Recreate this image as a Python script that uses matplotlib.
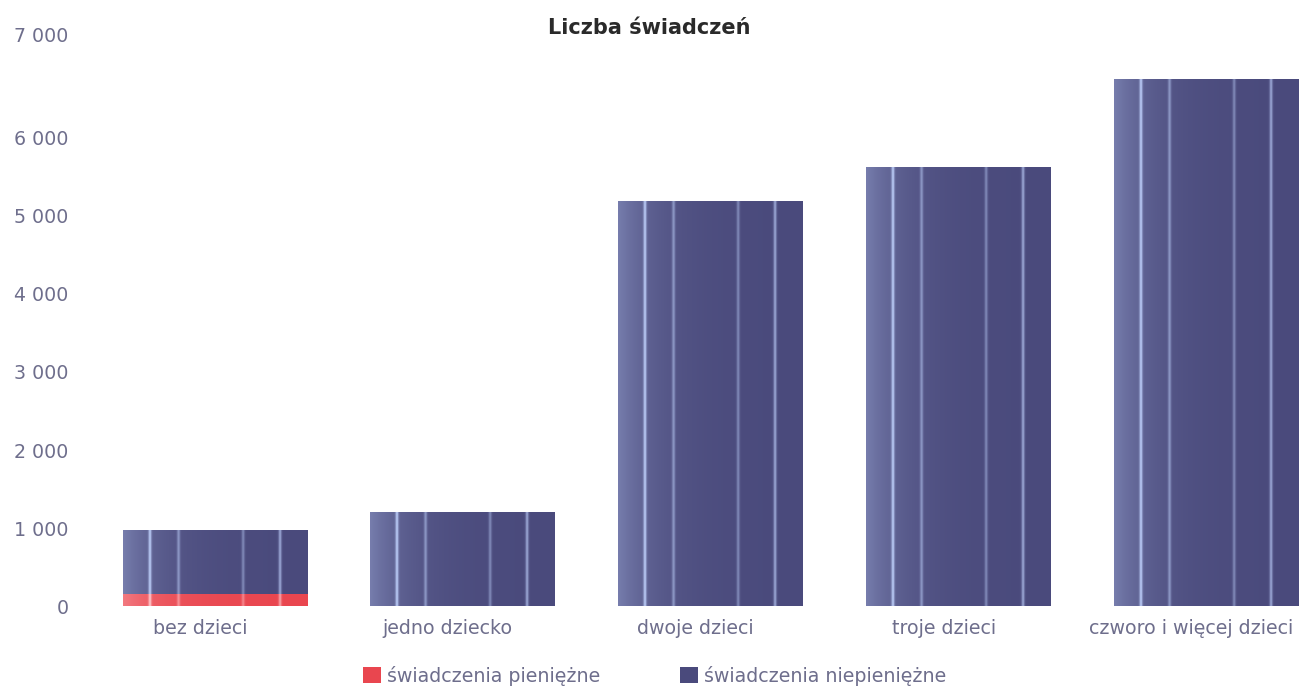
import numpy as np
import matplotlib.pyplot as plt
import matplotlib.transforms as mtrans
from matplotlib.colors import to_rgb

categories = ['bez dzieci', 'jedno dziecko', 'dwoje dzieci', 'troje dzieci', 'czworo i więcej dzieci']
pieniezne = [150, 0, 0, 0, 0]
niepieniezne = [830, 1210, 5190, 5630, 6760]
yticks = [0, 1000, 2000, 3000, 4000, 5000, 6000, 7000]
ytick_labels = ['0', '1 000', '2 000', '3 000', '4 000', '5 000', '6 000', '7 000']

text_col = '#6e6e8c'
blue = '#4a4a7c'
red = '#e9464f'


def stripes(base, light, n=400):
    '''
    Horizontal gradient with light vertical streaks, as in the scanned bars
    '''
    x = np.linspace(0, 1, n)
    w = 0.42 * np.exp(-x / 0.2)
    for pos, amp in [(0.145, 0.9), (0.30, 0.55), (0.65, 0.5), (0.85, 0.75)]:
        w = w + amp * np.exp(-((x - pos) / 0.008) ** 2)
    w = np.clip(w, 0, 1)
    b = np.array(to_rgb(base))
    l = np.array(to_rgb(light))
    img = b[None, :] + (l - b)[None, :] * w[:, None]
    return img[None, :, :]


fig = plt.figure(figsize=(13.06, 6.93), dpi=100)
ax = fig.add_axes([0.0697, 0.1255, 0.930, 0.788])

xs = np.arange(len(categories))
width = 0.746

b1 = ax.bar(xs, pieniezne, width, color=red, label='świadczenia pieniężne', zorder=2)
b2 = ax.bar(xs, niepieniezne, width, bottom=pieniezne, color=blue,
            label='świadczenia niepieniężne', zorder=2)

for bars, base, light in [(b1, red, '#ffc0c4'), (b2, blue, '#b4c4f0')]:
    img = stripes(base, light)
    for p in bars:
        if p.get_height() <= 0:
            continue
        x0, y0 = p.get_x(), p.get_y()
        im = ax.imshow(img, extent=[x0, x0 + p.get_width(), y0, y0 + p.get_height()],
                       aspect='auto', zorder=3, interpolation='bilinear')
        im.set_clip_path(p)

ax.set_xlim(-0.5, 4.4)
ax.set_ylim(0, 7000)
ax.set_yticks(yticks)
ax.set_yticklabels(ytick_labels)
ax.set_xticks(xs)
ax.set_xticklabels(categories)
ax.tick_params(axis='both', length=0, labelsize=13.7, labelcolor=text_col)
ax.tick_params(axis='y', pad=16)
ax.tick_params(axis='x', pad=9)
for s in ax.spines.values():
    s.set_visible(False)

# labels in the scan sit a bit left of the bar centres
shift = mtrans.ScaledTranslation(-0.15, 0, fig.dpi_scale_trans)
for lab in ax.get_xticklabels():
    lab.set_transform(lab.get_transform() + shift)
# top label is higher in the scan
up = mtrans.ScaledTranslation(0, 0.25, fig.dpi_scale_trans)
top = ax.get_yticklabels()[-1]
top.set_transform(top.get_transform() + up)

fig.text(0.4975, 0.96, 'Liczba świadczeń', ha='center', va='center',
         fontsize=15, fontweight='bold', color='#2a2a2a')

fig.legend(handles=[b1, b2], loc='center', bbox_to_anchor=(0.501, 0.025), ncol=2,
           frameon=False, fontsize=13.7, labelcolor=text_col, handlelength=0.95,
           handleheight=0.85, handletextpad=0.3, columnspacing=4.2)

fig.savefig('out.png', dpi=100)
